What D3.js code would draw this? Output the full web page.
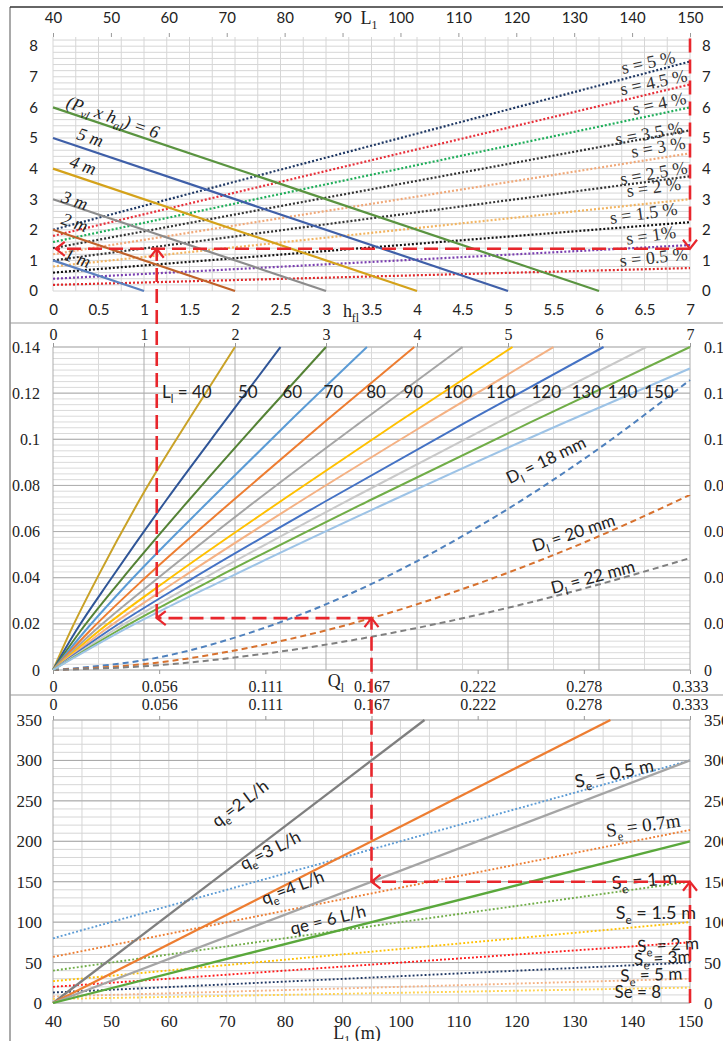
<!DOCTYPE html>
<html>
<head>
<meta charset="utf-8">
<script src="https://cdn.jsdelivr.net/npm/d3@7"></script>
<style>
  body { margin: 0; background: #fff; }
</style>
</head>
<body>
<svg id="chart" width="723" height="1041"></svg>
<script>
// ---------------- data ----------------
// panel 1 : head x pressure lines and slope lines
const hflTicks = d3.range(0, 7.01, 0.5);
const lenTicks = [40, 50, 60, 70, 80, 90, 100, 110, 120, 130, 140, 150];
const pHead = [1, 2, 3, 4, 5, 6];                 // line from (0,k) to (k,0)
const pHeadColors = ['#5b80bf', '#c0622a', '#8c8c8c', '#d4a21a', '#3f5fa8', '#5a9440'];
const slopePct = [0.5, 1, 1.5, 2, 2.5, 3, 3.5, 4, 4.5, 5];
const slopeAt40 = [0.2, 0.4, 0.6, 0.8, 1.0, 1.2, 1.4, 1.6, 1.8, 2.0];
const slopeAt150 = [0.75, 1.5, 2.25, 3.0, 3.75, 4.5, 5.25, 6.0, 6.75, 7.5];
const slopeColors = ['#e0282a', '#7a3fb0', '#111111', '#f2b460', '#333333',
                     '#f0a878', '#333333', '#1fae5a', '#e8303a', '#1f3864'];
const slopeText = ['s = 0.5 %', 's = 1%', 's = 1.5 %', 's = 2 %', 's = 2.5 %',
                   's = 3 %', 's = 3.5 %', 's = 4 %', 's = 4.5 %', 's = 5 %'];

// panel 2 : lateral length lines (hfl , y) and diameter curves (Ql , y)
const latLen = [40, 50, 60, 70, 80, 90, 100, 110, 120, 130, 140, 150];
const latColors = ['#c9a227', '#2f5597', '#548235', '#5b9bd5', '#ed7d31', '#a5a5a5',
                   '#ffc000', '#f4b183', '#4472c4', '#c9c9c9', '#70ad47', '#9dc3e6'];
const latH = [
  [0, 0.2, 0.5, 1, 1.5, 2],
  [0, 0.25, 0.63, 1.25, 1.88, 2.5],
  [0, 0.3, 0.75, 1.5, 2.25, 3],
  [0, 0.35, 0.86, 1.73, 2.59, 3.45],
  [0, 0.4, 0.99, 1.99, 2.98, 3.97],
  [0, 0.45, 1.13, 2.25, 3.38, 4.5],
  [0, 0.5, 1.26, 2.53, 3.79, 5.05],
  [0, 0.55, 1.38, 2.75, 4.13, 5.5],
  [0, 0.6, 1.51, 3.03, 4.54, 6.05],
  [0, 0.65, 1.63, 3.26, 4.89, 6.52],
  [0, 0.7, 1.75, 3.5, 5.25, 7],
  [0, 0.75, 1.88, 3.75, 5.63, 7]
];
const latY = [
  [0, 0.0175, 0.041, 0.077, 0.109, 0.14],
  [0, 0.0168, 0.0391, 0.0739, 0.1074, 0.14],
  [0, 0.0168, 0.0391, 0.0739, 0.1074, 0.14],
  [0, 0.0168, 0.0391, 0.0739, 0.1074, 0.14],
  [0, 0.0168, 0.0391, 0.0739, 0.1074, 0.14],
  [0, 0.0168, 0.0391, 0.0739, 0.1074, 0.14],
  [0, 0.0168, 0.0391, 0.0739, 0.1074, 0.14],
  [0, 0.0168, 0.0391, 0.0739, 0.1074, 0.14],
  [0, 0.0168, 0.0391, 0.0739, 0.1074, 0.14],
  [0, 0.0168, 0.0391, 0.0739, 0.1074, 0.14],
  [0, 0.0168, 0.0391, 0.0739, 0.1074, 0.14],
  [0, 0.0168, 0.0391, 0.0739, 0.1074, 0.1307]
];
const qTicks = [0, 1/18, 2/18, 3/18, 4/18, 5/18, 6/18];
const diam = [18, 20, 22];
const diamColors = ['#4f81bd', '#d7712e', '#808080'];
const diamY = [
  [0, 0.0055, 0.0184, 0.0373, 0.0619, 0.0914, 0.1257],
  [0, 0.0033, 0.0111, 0.0225, 0.0374, 0.0552, 0.0759],
  [0, 0.0021, 0.0071, 0.0144, 0.0239, 0.0353, 0.0485]
];

// panel 3 : emitter discharge lines (Ql , n) and spacing lines (L1 , n)
const qe = [2, 3, 4, 6];
const qeColors = ['#7f7f7f', '#ed7d31', '#a5a5a5', '#5aa83c'];
const qeEndQ = [0.1944, 0.2917, 0.3333, 0.3333];
const qeEndN = [350, 350, 300, 200];
const spacing = [0.5, 0.7, 1, 1.5, 2, 3, 5, 8];
const spacingColors = ['#5b9bd5', '#ed7d31', '#70ad47', '#ffc000', '#ff1a1a', '#203864', '#f4b183', '#ffd24d'];
const spacingAt40 = [80, 57, 40, 27, 20, 13, 8, 5];
const spacingAt150 = [300, 214, 150, 100, 75, 50, 30, 19];

// ---------------- layout ----------------
const SERIF = '"Liberation Serif", "Times New Roman", serif';
const SANS = 'Lato, "Open Sans", sans-serif';
const X0 = 53, X1 = 690;
const svg = d3.select('#chart');

const x1 = d3.scaleLinear().domain([0, 7]).range([X0, X1]);
const xL1 = d3.scaleLinear().domain([40, 150]).range([X0, X1]);
const y1 = d3.scaleLinear().domain([0, 8.3]).range([291, 37]);

const x2 = d3.scaleLinear().domain([0, 7]).range([X0, X1]);
const q2 = d3.scaleLinear().domain([0, 1/3]).range([X0, X1]);
const y2 = d3.scaleLinear().domain([0, 0.14]).range([670, 347]);

const xL3 = d3.scaleLinear().domain([40, 150]).range([X0, X1]);
const q3 = d3.scaleLinear().domain([0, 1/3]).range([X0, X1]);
const y3 = d3.scaleLinear().domain([0, 350]).range([1003, 720]);

const line = d3.line();

// frame
svg.append('line').attr('x1', 10).attr('x2', 10).attr('y1', 7).attr('y2', 1041).attr('stroke', '#555');
svg.append('line').attr('x1', 10).attr('x2', 723).attr('y1', 7).attr('y2', 7).attr('stroke', '#333').attr('stroke-width', 1.5);
[323, 695].forEach(yy => svg.append('line').attr('x1', 10).attr('x2', 723)
  .attr('y1', yy).attr('y2', yy).attr('stroke', '#999'));

// grid helper
function grid(g, xs, xScale, ys, yScale, col) {
  const [ya, yb] = yScale.range();
  const [xa, xb] = xScale.range();
  g.selectAll(null).data(xs).enter().append('line')
    .attr('x1', d => xScale(d)).attr('x2', d => xScale(d))
    .attr('y1', ya).attr('y2', yb).attr('stroke', col).attr('stroke-width', 1);
  g.selectAll(null).data(ys).enter().append('line')
    .attr('y1', d => yScale(d)).attr('y2', d => yScale(d))
    .attr('x1', xa).attr('x2', xb).attr('stroke', col).attr('stroke-width', 1);
}

function styleAxis(g, font, size) {
  g.select('.domain').remove();
  g.attr('font-family', font).attr('font-size', size);
  g.selectAll('.tick line').attr('stroke', '#999');
  g.selectAll('.tick text').attr('fill', '#222');
}

// text with subscripts; parts = [[str, isSub], ...]
function rich(parent, parts, size, font, opts) {
  const o = opts || {};
  const g = parent.append('g').attr('transform', `translate(${o.x},${o.y}) rotate(${o.rot || 0})`);
  const t = g.append('text').attr('font-family', font).attr('font-size', size)
    .attr('text-anchor', o.anchor || 'middle').attr('fill', o.fill || '#222')
    .attr('font-style', o.italic ? 'italic' : null).attr('dy', '0.35em');
  let prevSub = false;
  parts.forEach(([s, sub]) => {
    const ts = t.append('tspan').text(s);
    if (sub) { ts.attr('font-size', size * 0.66).attr('dy', size * 0.28); prevSub = true; }
    else if (prevSub) { ts.attr('dy', -size * 0.28); prevSub = false; }
  });
  return g;
}

const fmtNum = d => String(+d.toFixed(2));
const fmtQ = d => d === 0 ? '0' : d.toFixed(3);

// ================= PANEL 1 =================
const p1 = svg.append('g');
grid(p1.append('g'), d3.range(0, 7.01, 0.25), x1, d3.range(0, 8.25, 0.2), y1, '#d6d6d6');

// slope lines (dotted)
slopePct.forEach((s, i) => {
  p1.append('path')
    .attr('d', line([[xL1(40), y1(slopeAt40[i])], [xL1(150), y1(slopeAt150[i])]]))
    .attr('fill', 'none').attr('stroke', slopeColors[i]).attr('stroke-width', 2.2)
    .attr('stroke-dasharray', '2,2');
});
// P x h lines
pHead.forEach((k, i) => {
  p1.append('path')
    .attr('d', line([[x1(0), y1(k)], [x1(k), y1(0)]]))
    .attr('fill', 'none').attr('stroke', pHeadColors[i]).attr('stroke-width', 2.2);
});

// axes
styleAxis(p1.append('g').attr('transform', `translate(${X0},0)`)
  .call(d3.axisLeft(y1).tickValues(d3.range(0, 9)).tickSize(0).tickPadding(15)), SANS, 15);
styleAxis(p1.append('g').attr('transform', `translate(${X1},0)`)
  .call(d3.axisRight(y1).tickValues(d3.range(0, 9)).tickSize(0).tickPadding(12)), SANS, 15);
styleAxis(p1.append('g').attr('transform', 'translate(0,37)')
  .call(d3.axisTop(xL1).tickValues(lenTicks).tickSize(4).tickPadding(10)), SANS, 15);
styleAxis(p1.append('g').attr('transform', 'translate(0,291)')
  .call(d3.axisBottom(x1).tickValues(hflTicks).tickFormat(fmtNum).tickSize(0).tickPadding(13)), SANS, 15);
rich(p1, [['L'], ['1', true]], 18, SERIF, { x: 369, y: 18 });
rich(p1, [['h'], ['fl', true]], 18, SERIF, { x: 351, y: 311 });

// labels
const pLabels = [
  { parts: [['1 m']], h: 0.27, y: 1.08 },
  { parts: [['2 m']], h: 0.24, y: 2.25 },
  { parts: [['3 m']], h: 0.24, y: 2.97 },
  { parts: [['4 m']], h: 0.33, y: 4.12 },
  { parts: [['5 m']], h: 0.41, y: 5.03 },
  { parts: [['(P'], ['vl', true], [' x h'], ['al', true], [') = 6']], h: 0.66, y: 5.69 }
];
pLabels.forEach(d => rich(p1, d.parts, 18, SERIF, { x: x1(d.h), y: y1(d.y), rot: 19, italic: true }));

const sLabelPos = [[6.60, 1.11, -6], [6.57, 1.83, -8], [6.49, 2.55, -8], [6.60, 3.40, -8],
  [6.60, 3.86, -10], [6.65, 4.71, -10], [6.55, 5.16, -10], [6.66, 6.14, -12],
  [6.60, 6.83, -12], [6.54, 7.48, -12]];
slopeText.forEach((s, i) => {
  const [h, yy, r] = sLabelPos[i];
  rich(p1, [[s]], 18, SERIF, { x: x1(h), y: y1(yy), rot: r, fill: '#333' });
});

// ================= PANEL 2 =================
const p2 = svg.append('g');
grid(p2.append('g'), d3.range(0.5, 7, 1), x2, d3.range(0, 0.1401, 0.0025), y2, '#dadada');
grid(p2.append('g'), d3.range(0, 7.01, 1), x2, d3.range(0, 0.1401, 0.02), y2, '#adadad');

diam.forEach((d, i) => {
  p2.append('path')
    .attr('d', d3.line().curve(d3.curveMonotoneX)(qTicks.map((q, j) => [q2(q), y2(diamY[i][j])])))
    .attr('fill', 'none').attr('stroke', diamColors[i]).attr('stroke-width', 2)
    .attr('stroke-dasharray', '6,4');
});
latLen.forEach((L, i) => {
  p2.append('path')
    .attr('d', d3.line().curve(d3.curveMonotoneX)(latH[i].map((h, j) => [x2(h), y2(latY[i][j])])))
    .attr('fill', 'none').attr('stroke', latColors[i]).attr('stroke-width', 2);
});

styleAxis(p2.append('g').attr('transform', `translate(${X0},0)`)
  .call(d3.axisLeft(y2).tickValues(d3.range(0, 0.1401, 0.02)).tickFormat(fmtNum).tickSize(0).tickPadding(13)), SERIF, 16);
styleAxis(p2.append('g').attr('transform', `translate(${X1},0)`)
  .call(d3.axisRight(y2).tickValues(d3.range(0, 0.1401, 0.02)).tickFormat(fmtNum).tickSize(0).tickPadding(14)), SERIF, 16);
styleAxis(p2.append('g').attr('transform', 'translate(0,347)')
  .call(d3.axisTop(x2).tickValues(d3.range(0, 8)).tickFormat(fmtNum).tickSize(4).tickPadding(3)), SERIF, 16);
styleAxis(p2.append('g').attr('transform', 'translate(0,670)')
  .call(d3.axisBottom(q2).tickValues(qTicks).tickFormat(fmtQ).tickSize(4).tickPadding(7)), SERIF, 16);
rich(p2, [['Q'], ['l', true]], 18, SERIF, { x: 336, y: 681 });

const latLabelH = [1.47, 2.14, 2.63, 3.08, 3.55, 3.96, 4.45, 4.92, 5.42, 5.86, 6.26, 6.66];
latLen.forEach((L, i) => {
  const parts = i === 0 ? [['L'], ['l', true], [' = 40']] : [[String(L)]];
  rich(p2, parts, 17, SANS, { x: x2(latLabelH[i]), y: y2(0.1205) });
});
const diamLabelPos = [[0.2579, 0.091, -26], [0.2724, 0.0594, -18], [0.2825, 0.0403, -15]];
diam.forEach((d, i) => {
  const [q, yy, r] = diamLabelPos[i];
  rich(p2, [['D'], ['l', true], [` = ${d} mm`]], 17, SANS, { x: q2(q), y: y2(yy), rot: r });
});

// ================= PANEL 3 =================
const p3 = svg.append('g');
grid(p3.append('g'), d3.range(45, 150, 5), xL3, d3.range(0, 351, 10), y3, '#d6d6d6');
grid(p3.append('g'), [40, 150], xL3, d3.range(0, 351, 50), y3, '#a8a8a8');

spacing.forEach((s, i) => {
  p3.append('path')
    .attr('d', line([[xL3(40), y3(spacingAt40[i])], [xL3(150), y3(spacingAt150[i])]]))
    .attr('fill', 'none').attr('stroke', spacingColors[i]).attr('stroke-width', 1.9)
    .attr('stroke-dasharray', '1.9,2.1');
});
qe.forEach((v, i) => {
  p3.append('path')
    .attr('d', line([[q3(0), y3(0)], [q3(qeEndQ[i]), y3(qeEndN[i])]]))
    .attr('fill', 'none').attr('stroke', qeColors[i]).attr('stroke-width', 2.3);
});

styleAxis(p3.append('g').attr('transform', `translate(${X0},0)`)
  .call(d3.axisLeft(y3).tickValues(d3.range(0, 351, 50)).tickSize(0).tickPadding(11)), SERIF, 17);
styleAxis(p3.append('g').attr('transform', `translate(${X1},0)`)
  .call(d3.axisRight(y3).tickValues(d3.range(0, 351, 50)).tickSize(0).tickPadding(14)), SERIF, 17);
styleAxis(p3.append('g').attr('transform', 'translate(0,720)')
  .call(d3.axisTop(q3).tickValues(qTicks).tickFormat(fmtQ).tickSize(4).tickPadding(6)), SERIF, 16);
styleAxis(p3.append('g').attr('transform', 'translate(0,1003)')
  .call(d3.axisBottom(xL3).tickValues(lenTicks).tickSize(0).tickPadding(12)), SERIF, 17);
rich(p3, [['L'], ['1', true], [' (m)']], 18, SERIF, { x: 357, y: 1033 });

const qeLabels = [
  { parts: [['q'], ['e', true], ['=2 L/h']], L: 72.3, n: 247, r: -37 },
  { parts: [['q'], ['e', true], ['=3 L/h']], L: 77.5, n: 189, r: -27 },
  { parts: [['q'], ['e', true], ['=4 L/h']], L: 81.4, n: 143, r: -21 },
  { parts: [['qe = 6 L/h']], L: 87.5, n: 103, r: -14 }
];
qeLabels.forEach(d => rich(p3, d.parts, 17, SANS, { x: xL3(d.L), y: y3(d.n), rot: d.r }));

const seLabels = [
  { parts: [['S'], ['e', true], [' = 0.5 m']], L: 136.9, n: 284, r: -12, font: SANS, size: 18 },
  { parts: [['S'], ['e', true], [' = 0.7m']], L: 141.9, n: 220, r: -8, font: SERIF, size: 19 },
  { parts: [['S'], ['e', true], [' = 1 m']], L: 142.1, n: 152, r: -5, font: SANS, size: 18 },
  { parts: [['S'], ['e', true], [' = 1.5 m']], L: 144.1, n: 112, r: 0, font: SANS, size: 18 },
  { parts: [['S'], ['e', true], [' = 2 m']], L: 146.2, n: 72, r: -3, font: SANS, size: 17 },
  { parts: [['S'], ['e', true], [' = 3m']], L: 145.3, n: 56, r: -3, font: SANS, size: 17 },
  { parts: [['S'], ['e', true], [' = 5 m']], L: 143.3, n: 35, r: -2, font: SANS, size: 17 },
  { parts: [['Se = 8']], L: 141, n: 14, r: 0, font: SANS, size: 17 }
];
seLabels.forEach(d => rich(p3, d.parts, d.size, d.font, { x: xL3(d.L), y: y3(d.n), rot: d.r }));

// ================= red reading path =================
const RED = '#e8262c';
const hRead = 1.14, yRead1 = 1.38, yRead2 = 0.0225, qRead = 1/6, nRead = 150;
const red = svg.append('g').attr('fill', 'none').attr('stroke', RED).attr('stroke-width', 2.6);
const segs = [
  [[x1(7), y1(8.25)], [x1(7), y1(yRead1)]],
  [[x1(7), y1(yRead1)], [x1(0.03), y1(yRead1)]],
  [[x2(hRead), y2(yRead2)], [x1(hRead), y1(yRead1)]],
  [[q2(qRead), y2(yRead2)], [x2(hRead), y2(yRead2)]],
  [[q3(qRead), y3(nRead)], [q2(qRead), y2(yRead2)]],
  [[xL3(150), y3(nRead)], [q3(qRead), y3(nRead)]],
  [[xL3(150), y3(0)], [xL3(150), y3(nRead)]]
];
segs.forEach(s => red.append('path').attr('d', line(s)).attr('stroke-dasharray', '14,7'));
function arrowHead([x, y], dir) {
  const a = 9, b = 7;
  const pts = {
    left: [[x + a, y - b], [x, y], [x + a, y + b]],
    up: [[x - b, y + a], [x, y], [x + b, y + a]],
    down: [[x - b, y - a], [x, y], [x + b, y - a]]
  }[dir];
  red.append('path').attr('d', line(pts)).attr('stroke-width', 2.2);
}
arrowHead([x1(7), y1(yRead1)], 'down');
arrowHead([x1(0.03), y1(yRead1)], 'left');
arrowHead([x1(hRead), y1(yRead1)], 'up');
arrowHead([x2(hRead), y2(yRead2)], 'left');
arrowHead([q2(qRead), y2(yRead2)], 'up');
arrowHead([q3(qRead), y3(nRead)], 'left');
arrowHead([xL3(150), y3(nRead)], 'up');
</script>
</body>
</html>
